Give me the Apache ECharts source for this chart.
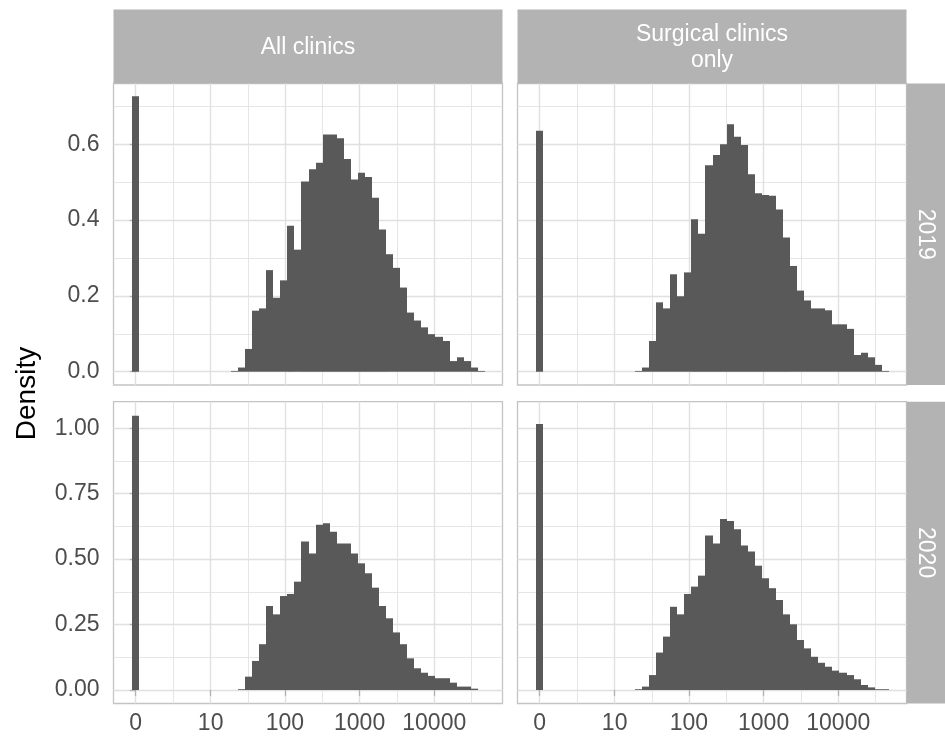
<!DOCTYPE html>
<html><head><meta charset="utf-8">
<script src="https://cdn.jsdelivr.net/npm/echarts@6/dist/echarts.min.js"></script>
<style>html,body{margin:0;padding:0;background:#fff;} #chart{width:945px;height:742px;}</style>
</head><body><div id="chart"></div>
<script>
// ---- data ----
const colFacets = ['All clinics', 'Surgical clinics\nonly'];
const rowFacets = ['2019', '2020'];
const yTitle = 'Density';
// histogram bins on pseudo-log10 scale (only non-empty bins listed)
const binWidth = 0.0945;
const binCenters = [0, 1.323, 1.4175, 1.512, 1.6065, 1.701, 1.7955, 1.89, 1.9845, 2.079, 2.1735, 2.268, 2.3625, 2.457, 2.5515, 2.646, 2.7405, 2.835, 2.9295, 3.024, 3.1185, 3.213, 3.3075, 3.402, 3.4965, 3.591, 3.6855, 3.78, 3.8745, 3.969, 4.0635, 4.158, 4.2525, 4.347, 4.4415, 4.536, 4.6305];
const density2019All = [0.727, 0.002, 0.011, 0.060, 0.161, 0.167, 0.268, 0.195, 0.241, 0.385, 0.322, 0.502, 0.534, 0.551, 0.626, 0.626, 0.616, 0.561, 0.507, 0.525, 0.514, 0.459, 0.375, 0.310, 0.274, 0.222, 0.156, 0.135, 0.117, 0.099, 0.092, 0.081, 0.028, 0.038, 0.028, 0.011, 0.002];
const density2019Surg = [0.636, 0.002, 0.011, 0.081, 0.183, 0.167, 0.257, 0.199, 0.262, 0.402, 0.364, 0.545, 0.572, 0.600, 0.653, 0.620, 0.598, 0.521, 0.471, 0.466, 0.464, 0.428, 0.354, 0.279, 0.214, 0.188, 0.167, 0.167, 0.162, 0.125, 0.125, 0.113, 0.044, 0.050, 0.038, 0.018, 0.002];
const density2020All = [1.048, 0, 0.003, 0.051, 0.111, 0.175, 0.321, 0.289, 0.359, 0.367, 0.414, 0.567, 0.522, 0.631, 0.637, 0.605, 0.560, 0.560, 0.522, 0.484, 0.446, 0.391, 0.321, 0.274, 0.220, 0.175, 0.121, 0.083, 0.066, 0.054, 0.045, 0.045, 0.028, 0.013, 0.013, 0.005, 0];
const density2020Surg = [1.016, 0.003, 0.013, 0.057, 0.143, 0.204, 0.318, 0.289, 0.367, 0.395, 0.437, 0.590, 0.560, 0.653, 0.646, 0.614, 0.552, 0.529, 0.475, 0.427, 0.389, 0.344, 0.289, 0.251, 0.191, 0.159, 0.127, 0.104, 0.089, 0.074, 0.066, 0.057, 0.041, 0.019, 0.010, 0.003, 0.003];

const xTickValues = [0, 1.0043, 2, 3, 4];
const xTickLabels = ['0', '10', '100', '1000', '10000'];
const xMinorValues = [0.502, 1.502, 2.5, 3.5, 4.5];
const xRange = [-0.297, 4.914];

const yTicks2019 = [0, 0.2, 0.4, 0.6];
const yTickLabels2019 = ['0.0', '0.2', '0.4', '0.6'];
const yMinor2019 = [0.1, 0.3, 0.5, 0.7];
const yRange2019 = [-0.0351, 0.7604];

const yTicks2020 = [0, 0.25, 0.5, 0.75, 1.0];
const yTickLabels2020 = ['0.00', '0.25', '0.50', '0.75', '1.00'];
const yMinor2020 = [0.125, 0.375, 0.625, 0.875];
const yRange2020 = [-0.0516, 1.1016];

// ---- layout / style ----
const FONT = "'Liberation Sans', Arial, sans-serif";
const colX = [{left: 113.5, width: 389}, {left: 517.5, width: 389}];
const rowY = [{top: 83.5, height: 301.5}, {top: 401.7, height: 301.8}];
const stripTop = 9.5, stripRightW = 39;
const GRID_COL = '#e0e0e0', BORDER = '#c4c4c4', STRIP = '#b3b3b3', BAR = '#595959', TXT = '#4d4d4d';

const panels = [
  {row: 0, col: 0, data: density2019All},
  {row: 0, col: 1, data: density2019Surg},
  {row: 1, col: 0, data: density2020All},
  {row: 1, col: 1, data: density2020Surg}
];
const yInfo = [
  {ticks: yTicks2019, labels: yTickLabels2019, minor: yMinor2019, range: yRange2019},
  {ticks: yTicks2020, labels: yTickLabels2020, minor: yMinor2020, range: yRange2020}
];

function lookup(vals, labs, v) {
  let best = 0, bd = Infinity;
  vals.forEach((t, i) => { const d = Math.abs(t - v); if (d < bd) { bd = d; best = i; } });
  return labs[best];
}

const grid = [], xAxis = [], yAxis = [], series = [];
panels.forEach((p, g) => {
  grid.push({left: colX[p.col].left, width: colX[p.col].width, top: rowY[p.row].top, height: rowY[p.row].height,
    show: true, borderColor: BORDER, borderWidth: 1.3, backgroundColor: 'transparent', containLabel: false});
  const bottom = p.row === 1, left = p.col === 0;
  const yi = yInfo[p.row];
  // major x
  xAxis.push({type: 'value', gridIndex: g, min: xRange[0], max: xRange[1], position: 'bottom',
    axisLine: {show: false},
    axisTick: {show: bottom, length: 6, customValues: xTickValues, lineStyle: {color: '#b3b3b3', width: 1.3}},
    axisLabel: {show: bottom, customValues: xTickValues, margin: 9, color: TXT, fontSize: 23, fontFamily: FONT,
      formatter: v => lookup(xTickValues, xTickLabels, v)},
    splitLine: {show: true, lineStyle: {color: GRID_COL, width: 1.4}}});
  // minor x
  xAxis.push({type: 'value', gridIndex: g, min: xRange[0], max: xRange[1], position: 'top',
    axisLine: {show: false}, axisTick: {show: false, customValues: xMinorValues},
    axisLabel: {show: false, customValues: xMinorValues},
    splitLine: {show: true, lineStyle: {color: GRID_COL, width: 0.8}}});
  // major y
  yAxis.push({type: 'value', gridIndex: g, min: yi.range[0], max: yi.range[1], position: 'left',
    axisLine: {show: false},
    axisTick: {show: left, length: 6, customValues: yi.ticks, lineStyle: {color: '#b3b3b3', width: 1.3}},
    axisLabel: {show: left, customValues: yi.ticks, margin: 14, color: TXT, fontSize: 23, fontFamily: FONT,
      formatter: v => lookup(yi.ticks, yi.labels, v)},
    splitLine: {show: true, lineStyle: {color: GRID_COL, width: 1.4}}});
  // minor y
  yAxis.push({type: 'value', gridIndex: g, min: yi.range[0], max: yi.range[1], position: 'right',
    axisLine: {show: false}, axisTick: {show: false, customValues: yi.minor},
    axisLabel: {show: false, customValues: yi.minor},
    splitLine: {show: true, lineStyle: {color: GRID_COL, width: 0.8}}});

  series.push({type: 'custom', xAxisIndex: 2 * g, yAxisIndex: 2 * g,
    data: binCenters.map((c, i) => [c, p.data[i]]),
    encode: {x: 0, y: 1}, silent: true, animation: false,
    renderItem: function (params, api) {
      const x = api.value(0), y = api.value(1);
      const a = api.coord([x - binWidth / 2, y]);
      const b = api.coord([x + binWidth / 2, 0]);
      const x0 = Math.round(a[0]), x1 = Math.round(b[0]);
      return {type: 'rect', shape: {x: x0, y: a[1], width: x1 - x0, height: b[1] - a[1]},
        style: {fill: BAR}};
    }});
});

const graphic = [];
colFacets.forEach((name, c) => {
  const x0 = colX[c].left, w = colX[c].width, h = rowY[0].top - stripTop;
  graphic.push({type: 'rect', shape: {x: x0, y: stripTop, width: w, height: h}, style: {fill: STRIP}, silent: true});
  graphic.push({type: 'text', x: x0 + w / 2, y: stripTop + h / 2 + 1, silent: true,
    style: {text: name, fill: '#ffffff', font: '23px ' + FONT, align: 'center', verticalAlign: 'middle', lineHeight: 26}});
});
rowFacets.forEach((name, r) => {
  const x0 = colX[1].left + colX[1].width, y0 = rowY[r].top, h = rowY[r].height;
  graphic.push({type: 'rect', shape: {x: x0, y: y0, width: stripRightW + 5, height: h}, style: {fill: STRIP}, silent: true});
  graphic.push({type: 'text', x: x0 + stripRightW / 2 - 1, y: y0 + h / 2, rotation: -Math.PI / 2, silent: true,
    style: {text: name, fill: '#ffffff', font: '23px ' + FONT, align: 'center', verticalAlign: 'middle'}});
});
graphic.push({type: 'text', x: 27, y: (rowY[0].top + rowY[1].top + rowY[1].height) / 2, rotation: Math.PI / 2, silent: true,
  style: {text: yTitle, fill: '#000000', font: '28px ' + FONT, align: 'center', verticalAlign: 'middle'}});

const chart = echarts.init(document.getElementById('chart'), null, {renderer: 'canvas'});
chart.setOption({animation: false, backgroundColor: '#ffffff', grid, xAxis, yAxis, series, graphic});
</script></body></html>
